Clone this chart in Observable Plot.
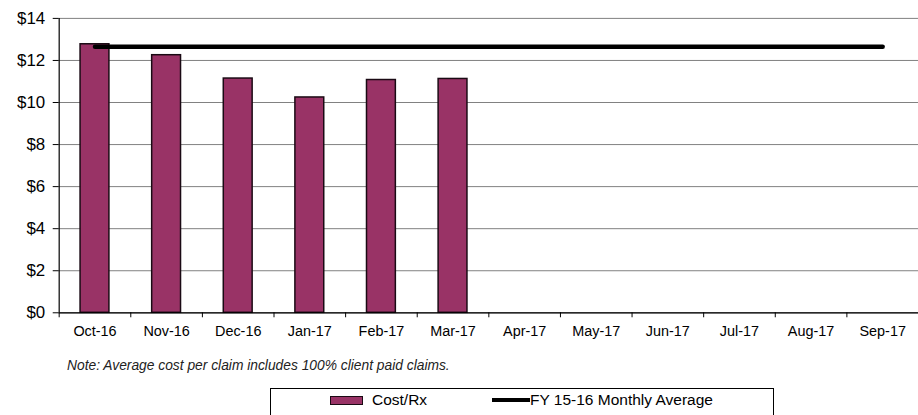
<!DOCTYPE html>
<html>
<head>
<meta charset="utf-8">
<script src="https://cdn.jsdelivr.net/npm/d3@7"></script>
<script src="https://cdn.jsdelivr.net/npm/@observablehq/plot@0.6"></script>
<style>
  html, body { margin: 0; padding: 0; background: #fff; overflow: hidden; }
  body { width: 918px; height: 415px; position: relative; font-family: "Liberation Sans", Arial, sans-serif; }
  #chart svg { display: block; }
  #note { position: absolute; left: 67px; top: 358px; font-size: 13.8px; font-style: italic; color: #222; white-space: nowrap; }
  #legend { position: absolute; left: 270px; top: 388px; width: 504px; height: 40px; border: 1px solid #000; box-sizing: border-box; }
  .li { position: absolute; top: 2px; font-size: 15.5px; color: #000; white-space: nowrap; display: flex; align-items: center; }
  .sw-bar { display: inline-block; width: 31px; height: 7px; background: #993366; border: 1px solid #1a0a14; margin-right: 9px; }
  .sw-line { display: inline-block; width: 38px; height: 4px; background: #000; margin-right: 0px; }
</style>
</head>
<body>
<div id="chart"></div>
<div id="note">Note: Average cost per claim includes 100% client paid claims.</div>
<div id="legend">
  <div class="li" style="left:59px;"><span class="sw-bar"></span>Cost/Rx</div>
  <div class="li" style="left:221px;"><span class="sw-line"></span>FY 15-16 Monthly Average</div>
</div>
<script>
const months = ["Oct-16","Nov-16","Dec-16","Jan-17","Feb-17","Mar-17","Apr-17","May-17","Jun-17","Jul-17","Aug-17","Sep-17"];
const costMonths = ["Oct-16","Nov-16","Dec-16","Jan-17","Feb-17","Mar-17"];
const costValues = [12.77, 12.25, 11.14, 10.24, 11.07, 11.12];
const avgValue = 12.65;
const yTicks = [0, 2, 4, 6, 8, 10, 12, 14];

const bars = costMonths.map((m, i) => ({month: m, value: costValues[i]}));
const avgLine = months.map(m => ({month: m, value: avgValue}));

const ML = 59, MR = 0, W = 923;
const step = (W - ML - MR) / months.length;

const chart = Plot.plot({
  width: W,
  height: 345,
  marginTop: 18,
  marginBottom: 31,
  marginLeft: ML,
  marginRight: MR,
  style: {fontFamily: "'Liberation Sans', Arial, sans-serif", color: "#000", background: "#fff"},
  x: {domain: months, paddingInner: 0.597, paddingOuter: 0.2985, align: 0.5, round: false},
  y: {domain: [0, 14]},
  marks: [
    Plot.gridY(yTicks, {stroke: "#808080", strokeOpacity: 1, strokeWidth: 1}),
    Plot.barY(bars, {x: "month", y: "value", fill: "#993366", stroke: "#1a0a14", strokeWidth: 1.5}),
    Plot.lineY(avgLine, {x: "month", y: "value", stroke: "#000", strokeWidth: 4.5}),
    Plot.ruleY([0], {stroke: "#000", strokeWidth: 1.2}),
    Plot.ruleX([months[0]], {y1: 0, y2: 14, dx: -step / 2, stroke: "#000", strokeWidth: 1.2}),
    Plot.axisY(yTicks, {tickFormat: d => "$" + d, tickSize: 6, tickPadding: 8, fontSize: 17, stroke: "#000", label: null}),
    Plot.axisX({tickSize: 0, tickPadding: 13, fontSize: 14.5, label: null}),
    Plot.axisX({tickSize: 5, tickFormat: () => "", dx: -step / 2, label: null, stroke: "#000"})
  ]
});
document.getElementById("chart").appendChild(chart);
</script>
</body>
</html>
